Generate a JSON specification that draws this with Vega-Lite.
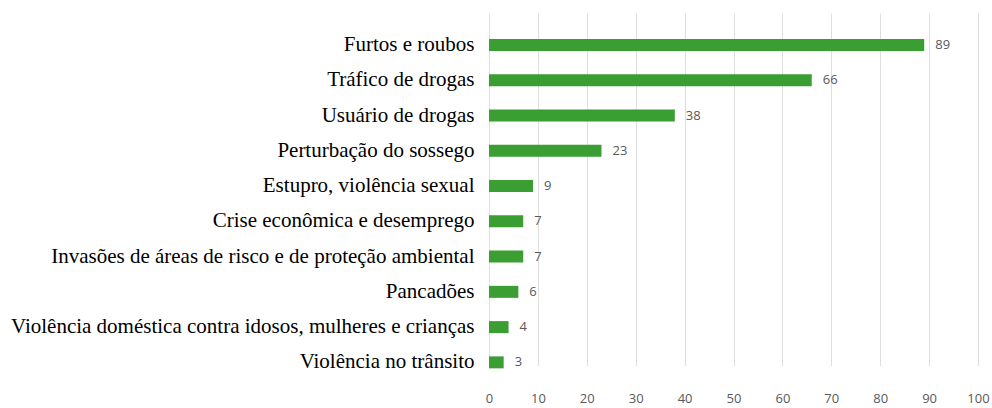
{
  "$schema": "https://vega.github.io/schema/vega-lite/v6.json",
  "autosize": "none",
  "width": 489,
  "height": 367,
  "padding": {"left": 489, "top": 13, "right": 14, "bottom": 28},
  "background": "white",
  "data": {"values": [
    {"categoria": "Furtos e roubos", "valor": 89},
    {"categoria": "Tráfico de drogas", "valor": 66},
    {"categoria": "Usuário de drogas", "valor": 38},
    {"categoria": "Perturbação do sossego", "valor": 23},
    {"categoria": "Estupro, violência sexual", "valor": 9},
    {"categoria": "Crise econômica e desemprego", "valor": 7},
    {"categoria": "Invasões de áreas de risco e de proteção ambiental", "valor": 7},
    {"categoria": "Pancadões", "valor": 6},
    {"categoria": "Violência doméstica contra idosos, mulheres e crianças", "valor": 4},
    {"categoria": "Violência no trânsito", "valor": 3}
  ]},
  "encoding": {
    "y": {
      "field": "categoria", "type": "nominal", "sort": null, "title": null,
      "scale": {"range": [14.4, 367], "paddingInner": 0.66, "paddingOuter": 0.33},
      "axis": {"labelFont": "Liberation Serif", "labelFontSize": 21, "labelColor": "#000000", "labelPadding": 15, "ticks": false, "domain": false, "labelLimit": 600}
    },
    "x": {
      "field": "valor", "type": "quantitative", "title": null,
      "scale": {"domain": [0, 100], "nice": false},
      "axis": {"values": [0,10,20,30,40,50,60,70,80,90,100], "labelFont": "Open Sans", "labelFontSize": 13, "labelColor": "#595959", "labelPadding": 12, "ticks": false, "domain": false, "gridColor": "#dedede", "gridWidth": 1, "labelFlush": false}
    }
  },
  "layer": [
    {"mark": {"type": "bar", "color": "#3a9e32"}},
    {"mark": {"type": "text", "align": "left", "baseline": "middle", "dx": 11, "font": "Open Sans", "fontSize": 13, "color": "#595959"},
     "encoding": {"text": {"field": "valor", "type": "quantitative"}}}
  ],
  "config": {"view": {"stroke": null}}
}
